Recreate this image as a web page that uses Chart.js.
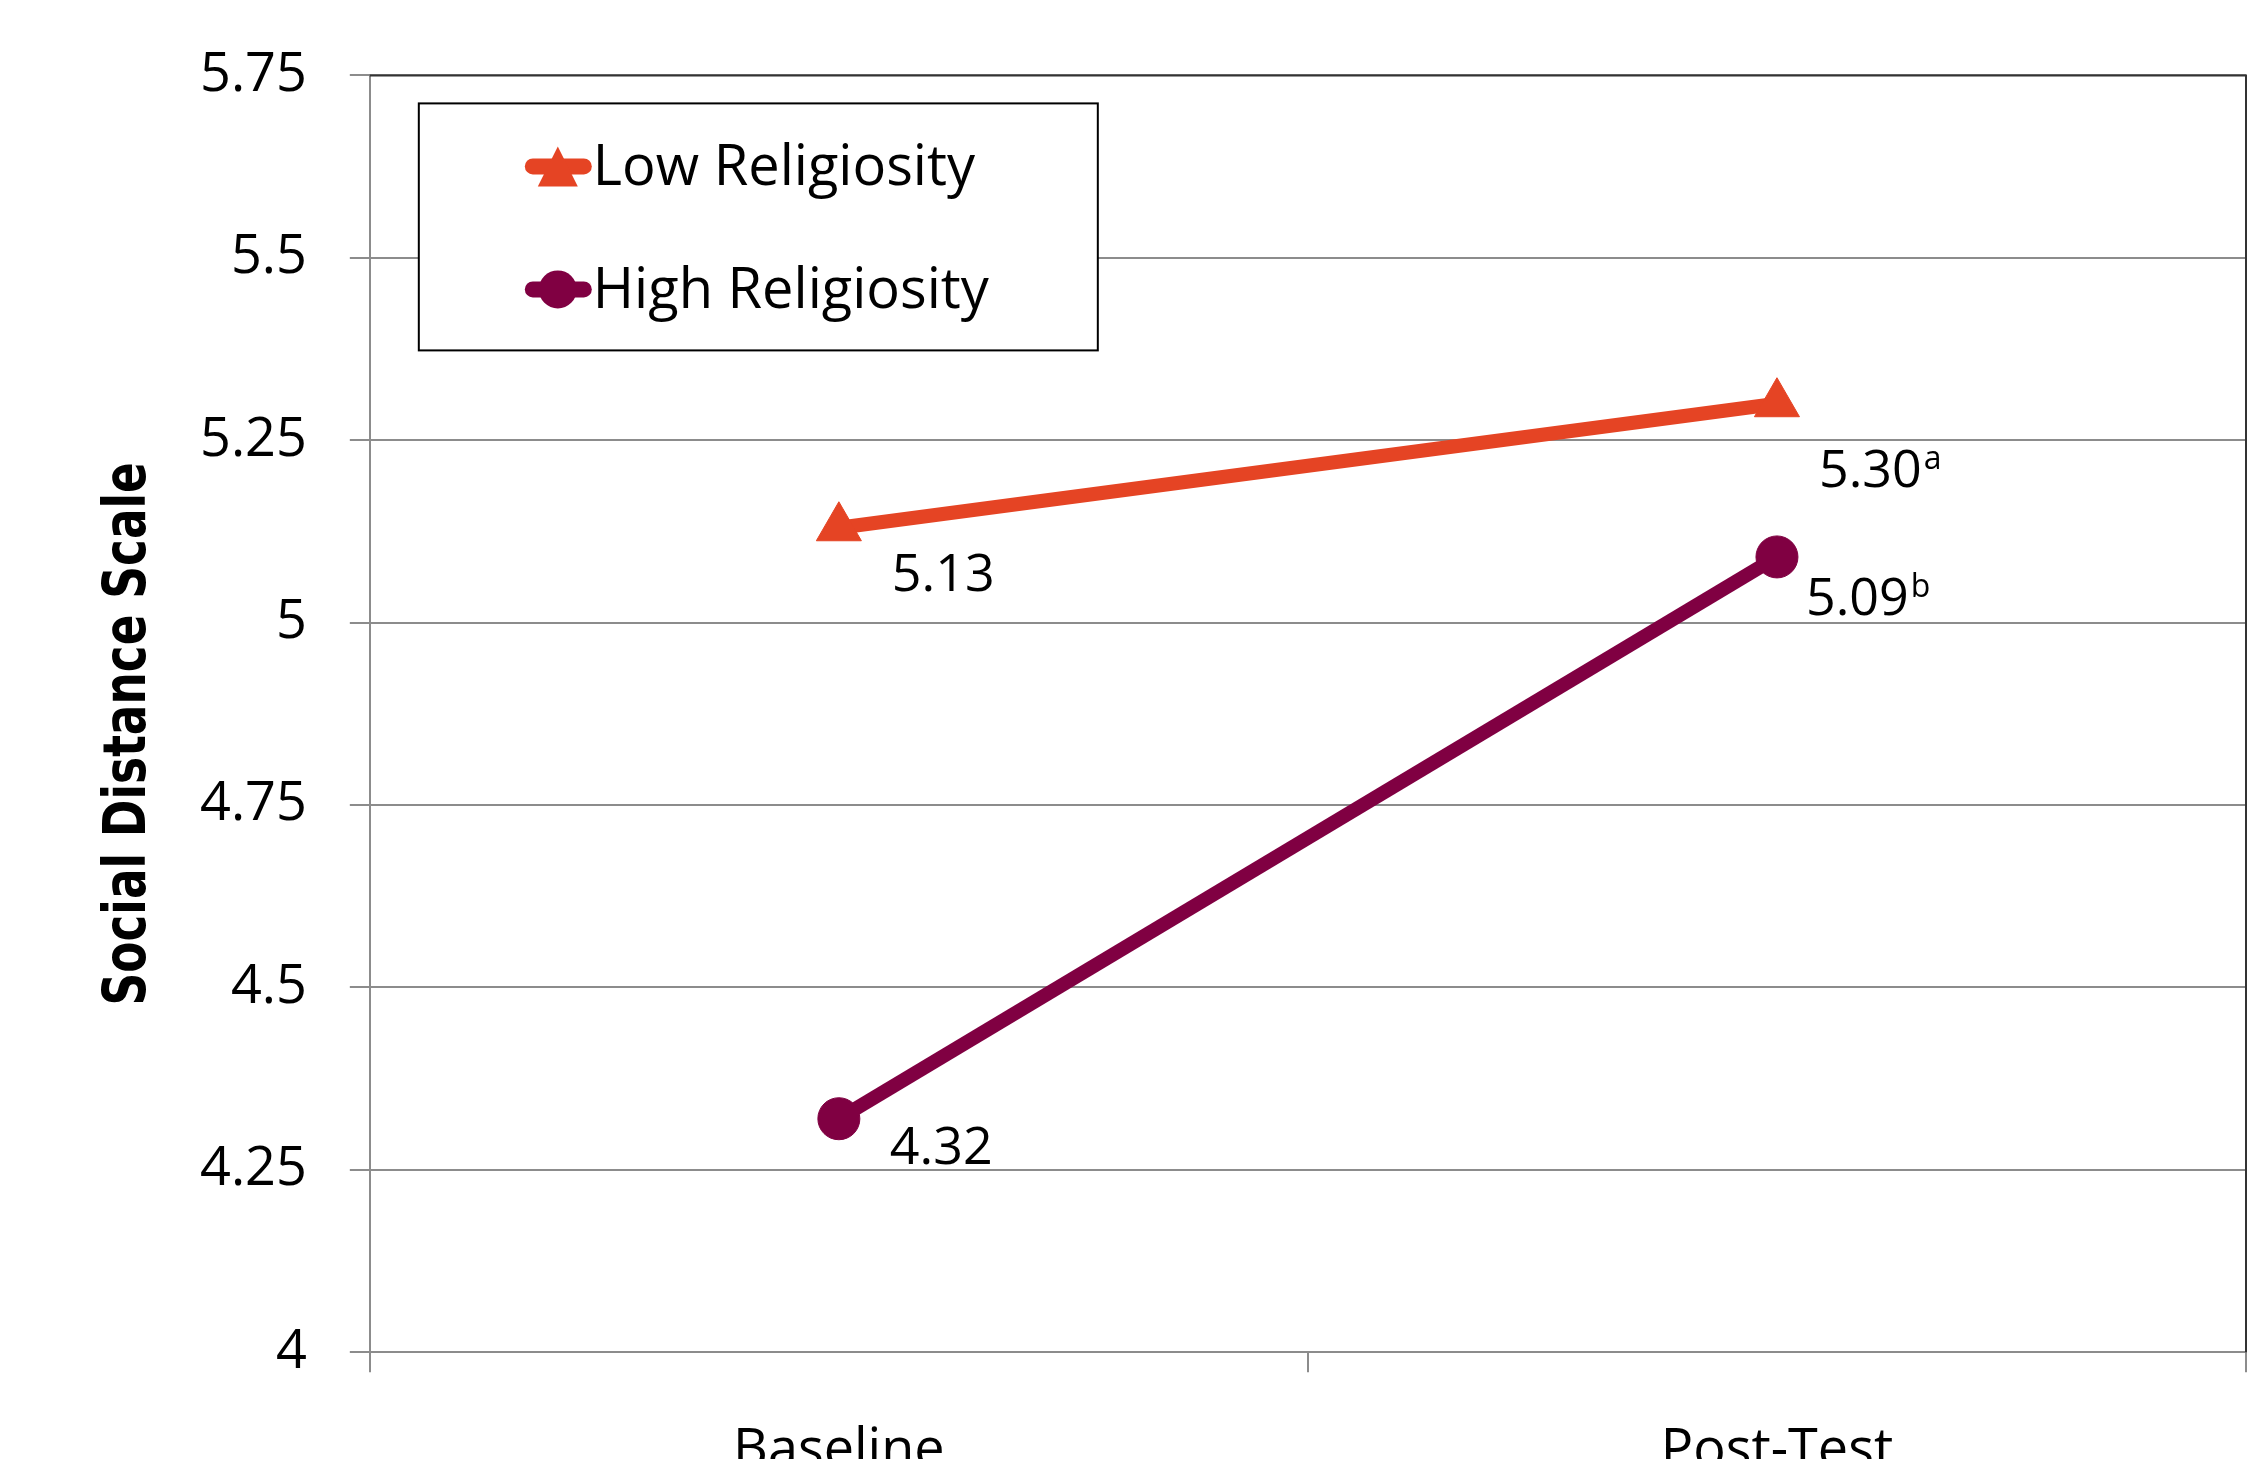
<!DOCTYPE html>
<html>
<head>
<meta charset="utf-8">
<script src="https://cdn.jsdelivr.net/npm/chart.js@4.4.1/dist/chart.umd.min.js"></script>
<style>
  html, body { margin: 0; padding: 0; background: #fff; overflow: hidden; }
  #wrap { position: relative; width: 2273px; height: 1531px; }
</style>
</head>
<body>
<div id="wrap"><canvas id="lineChart"></canvas></div>
<script>
const categories = ['Baseline', 'Post-Test'];
const lowReligiosity = [5.13, 5.30];
const highReligiosity = [4.32, 5.09];
const lowSuperscripts = ['', 'a'];
const highSuperscripts = ['', 'b'];
const yTicks = [4, 4.25, 4.5, 4.75, 5, 5.25, 5.5, 5.75];
const yTitle = 'Social Distance Scale';

const orange = '#E54424';
const maroon = '#800042';
const gridGrey = '#8c8c8c';
const textFont = "'Open Sans', 'Noto Sans', sans-serif";

// label offsets from each point: [left edge, baseline] in px
const labelOffsets = [
    [[53, 63], [42, 83]],
    [[51, 45], [29, 58]]
];
const superscripts = [lowSuperscripts, highSuperscripts];

const valueLabels = {
    id: 'valueLabels',
    afterDatasetsDraw(chart) {
        const ctx = chart.ctx;
        ctx.save();
        ctx.fillStyle = '#000';
        ctx.textAlign = 'left';
        ctx.textBaseline = 'alphabetic';
        chart.data.datasets.forEach((ds, i) => {
            chart.getDatasetMeta(i).data.forEach((pt, j) => {
                const txt = ds.data[j].toFixed(2);
                const [dx, dy] = labelOffsets[i][j];
                ctx.font = '52px ' + textFont;
                const w = ctx.measureText(txt).width;
                ctx.fillText(txt, pt.x + dx, pt.y + dy);
                const sup = superscripts[i][j];
                if (sup) {
                    ctx.font = '32px ' + textFont;
                    ctx.fillText(sup, pt.x + dx + w + 2, pt.y + dy - 18);
                }
            });
        });
        ctx.restore();
    }
};

// boxed legend inside the plot, top-left
const legendBox = {
    id: 'legendBox',
    afterDraw(chart) {
        const ctx = chart.ctx;
        const a = chart.chartArea;
        const bx = a.left + 49, by = a.top + 28, bw = 679, bh = 247;
        ctx.save();
        ctx.fillStyle = '#fff';
        ctx.fillRect(bx, by, bw, bh);
        ctx.strokeStyle = '#000';
        ctx.lineWidth = 2;
        ctx.strokeRect(bx, by, bw, bh);
        const rows = [by + 63, by + 186];
        chart.data.datasets.forEach((ds, i) => {
            const cy = rows[i];
            const mx = bx + 139;
            ctx.strokeStyle = ds.borderColor;
            ctx.lineWidth = 16;
            ctx.lineCap = 'round';
            ctx.beginPath();
            ctx.moveTo(bx + 114, cy);
            ctx.lineTo(bx + 165, cy);
            ctx.stroke();
            ctx.fillStyle = ds.borderColor;
            ctx.beginPath();
            if (ds.pointStyle === 'triangle') {
                ctx.moveTo(mx, cy - 20);
                ctx.lineTo(mx + 20, cy + 20);
                ctx.lineTo(mx - 20, cy + 20);
                ctx.closePath();
            } else {
                ctx.arc(mx, cy, 19, 0, Math.PI * 2);
            }
            ctx.fill();
            ctx.fillStyle = '#000';
            ctx.font = '56px ' + textFont;
            ctx.textAlign = 'left';
            ctx.textBaseline = 'alphabetic';
            ctx.fillText(ds.label, bx + 174, cy + 19);
        });
        ctx.restore();
    }
};

// dark frame on the top and right of the plot, plus the narrow bold y title
const plotFrame = {
    id: 'plotFrame',
    beforeDatasetsDraw(chart) {
        const ctx = chart.ctx;
        const a = chart.chartArea;
        ctx.save();
        ctx.strokeStyle = '#333';
        ctx.lineWidth = 2;
        ctx.beginPath();
        ctx.moveTo(a.left, a.top);
        ctx.lineTo(a.right, a.top);
        ctx.lineTo(a.right, a.bottom);
        ctx.stroke();
        ctx.restore();

        ctx.save();
        ctx.translate(130, (a.top + a.bottom) / 2 + 20);
        ctx.rotate(-Math.PI / 2);
        ctx.scale(0.87, 1);
        ctx.fillStyle = '#000';
        ctx.font = "bold 58px 'DejaVu Sans Condensed', 'DejaVu Sans', sans-serif";
        ctx.textAlign = 'center';
        ctx.textBaseline = 'middle';
        ctx.fillText(yTitle, 0, 0);
        ctx.restore();
    }
};

new Chart(document.getElementById('lineChart'), {
    type: 'line',
    data: {
        labels: categories,
        datasets: [{
            label: 'Low Religiosity',
            data: lowReligiosity,
            borderColor: orange,
            backgroundColor: orange,
            borderWidth: 14,
            pointStyle: 'triangle',
            pointRadius: 26,
            pointBorderWidth: 1,
            pointBackgroundColor: orange,
            pointBorderColor: orange,
            fill: false
        }, {
            label: 'High Religiosity',
            data: highReligiosity,
            borderColor: maroon,
            backgroundColor: maroon,
            borderWidth: 14,
            pointStyle: 'circle',
            pointRadius: 21,
            pointBorderWidth: 1,
            pointBackgroundColor: maroon,
            pointBorderColor: maroon,
            fill: false
        }]
    },
    options: {
        responsive: true,
        maintainAspectRatio: false,
        animation: false,
        layout: { padding: { left: 157, right: 2, top: 74, bottom: 0 } },
        plugins: {
            legend: { display: false },
            tooltip: { enabled: false }
        },
        scales: {
            x: {
                offset: true,
                grid: { offset: true, drawOnChartArea: false, tickLength: 20, color: gridGrey, lineWidth: 2 },
                border: { display: false },
                ticks: { padding: 47, color: '#000', font: { family: textFont, size: 54 } }
            },
            y: {
                min: 4,
                max: 5.75,
                afterBuildTicks: axis => { axis.ticks = yTicks.map(v => ({ value: v })); },
                grid: { color: gridGrey, lineWidth: 2, tickLength: 20 },
                border: { color: gridGrey, width: 2 },
                ticks: {
                    padding: 43,
                    color: '#000',
                    font: { family: textFont, size: 54 },
                    callback: value => String(value)
                }
            }
        }
    },
    plugins: [plotFrame, valueLabels, legendBox]
});
</script>
</body>
</html>
